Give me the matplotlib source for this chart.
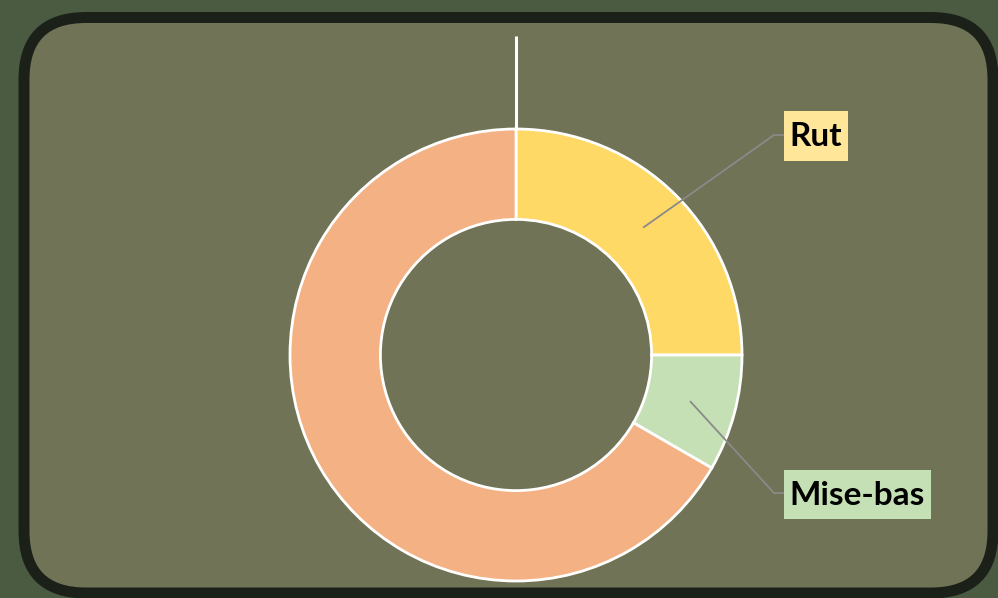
import matplotlib
matplotlib.use("Agg")
import matplotlib.pyplot as plt
from matplotlib.patches import FancyBboxPatch, Rectangle
import numpy as np

# Data
categories = ["Rut", "Mise-bas", ""]
values = [3, 1, 8]
colors = ["#FFD966", "#C5E0B4", "#F4B183"]
label_fills = ["#FFE699", "#C5E0B4", None]

W, H = 998, 598
fig = plt.figure(figsize=(W / 100, H / 100), dpi=100)
fig.patch.set_facecolor("#4b5b42")
ax = fig.add_axes([0, 0, 1, 1])
ax.set_xlim(0, W)
ax.set_ylim(0, H)
ax.set_aspect("equal")
ax.axis("off")

def Y(y):
    return H - y

# Panel
panel = FancyBboxPatch((24, Y(593)), 993 - 24, 593 - 17.5,
                       boxstyle="round,pad=0,rounding_size=62",
                       facecolor="#707356", edgecolor="#1b2119",
                       linewidth=7.9, zorder=1)
ax.add_patch(panel)

# Donut
cx, cy, R = 516, Y(355), 226
ring = 0.4 * R
wedges, _ = ax.pie(values, colors=colors, startangle=90, counterclock=False,
                   center=(cx, cy), radius=R,
                   wedgeprops=dict(width=ring, edgecolor="white", linewidth=2),
                   frame=True)
for w in wedges:
    w.set_zorder(3)
ax.set_xlim(0, W)
ax.set_ylim(0, H)
ax.axis("off")

# White leader line at top
ax.plot([cx, cx], [cy + R, Y(36)], color="white", lw=2.2, zorder=4,
        solid_capstyle="butt")

# Labels
boxes = {
    "Rut": (784, 111, 848, 161, 135),
    "Mise-bas": (784, 470, 931, 519, 493),
}
total = sum(values)
start = 90.0
for name, v, fill in zip(categories, values, label_fills):
    span = 360.0 * v / total
    mid = start - span / 2
    start -= span
    if not name:
        continue
    rm = R - ring / 2
    ax_, ay_ = cx + rm * np.cos(np.radians(mid)), cy + rm * np.sin(np.radians(mid))
    x0, y0, x1, y1, ly = boxes[name]
    ax.plot([ax_, 774, x0], [ay_, Y(ly), Y(ly)], color="#8a8a8a", lw=1.3, zorder=5)
    ax.add_patch(Rectangle((x0, Y(y1)), x1 - x0, y1 - y0, facecolor=fill,
                           edgecolor="none", zorder=6))
    ax.text((x0 + x1) / 2, Y((y0 + y1) / 2) - 1, name, ha="center", va="center",
            fontsize=24, fontweight="bold", family="Lato", color="black", zorder=7)

fig.savefig("out.png", dpi=100, facecolor=fig.get_facecolor())
